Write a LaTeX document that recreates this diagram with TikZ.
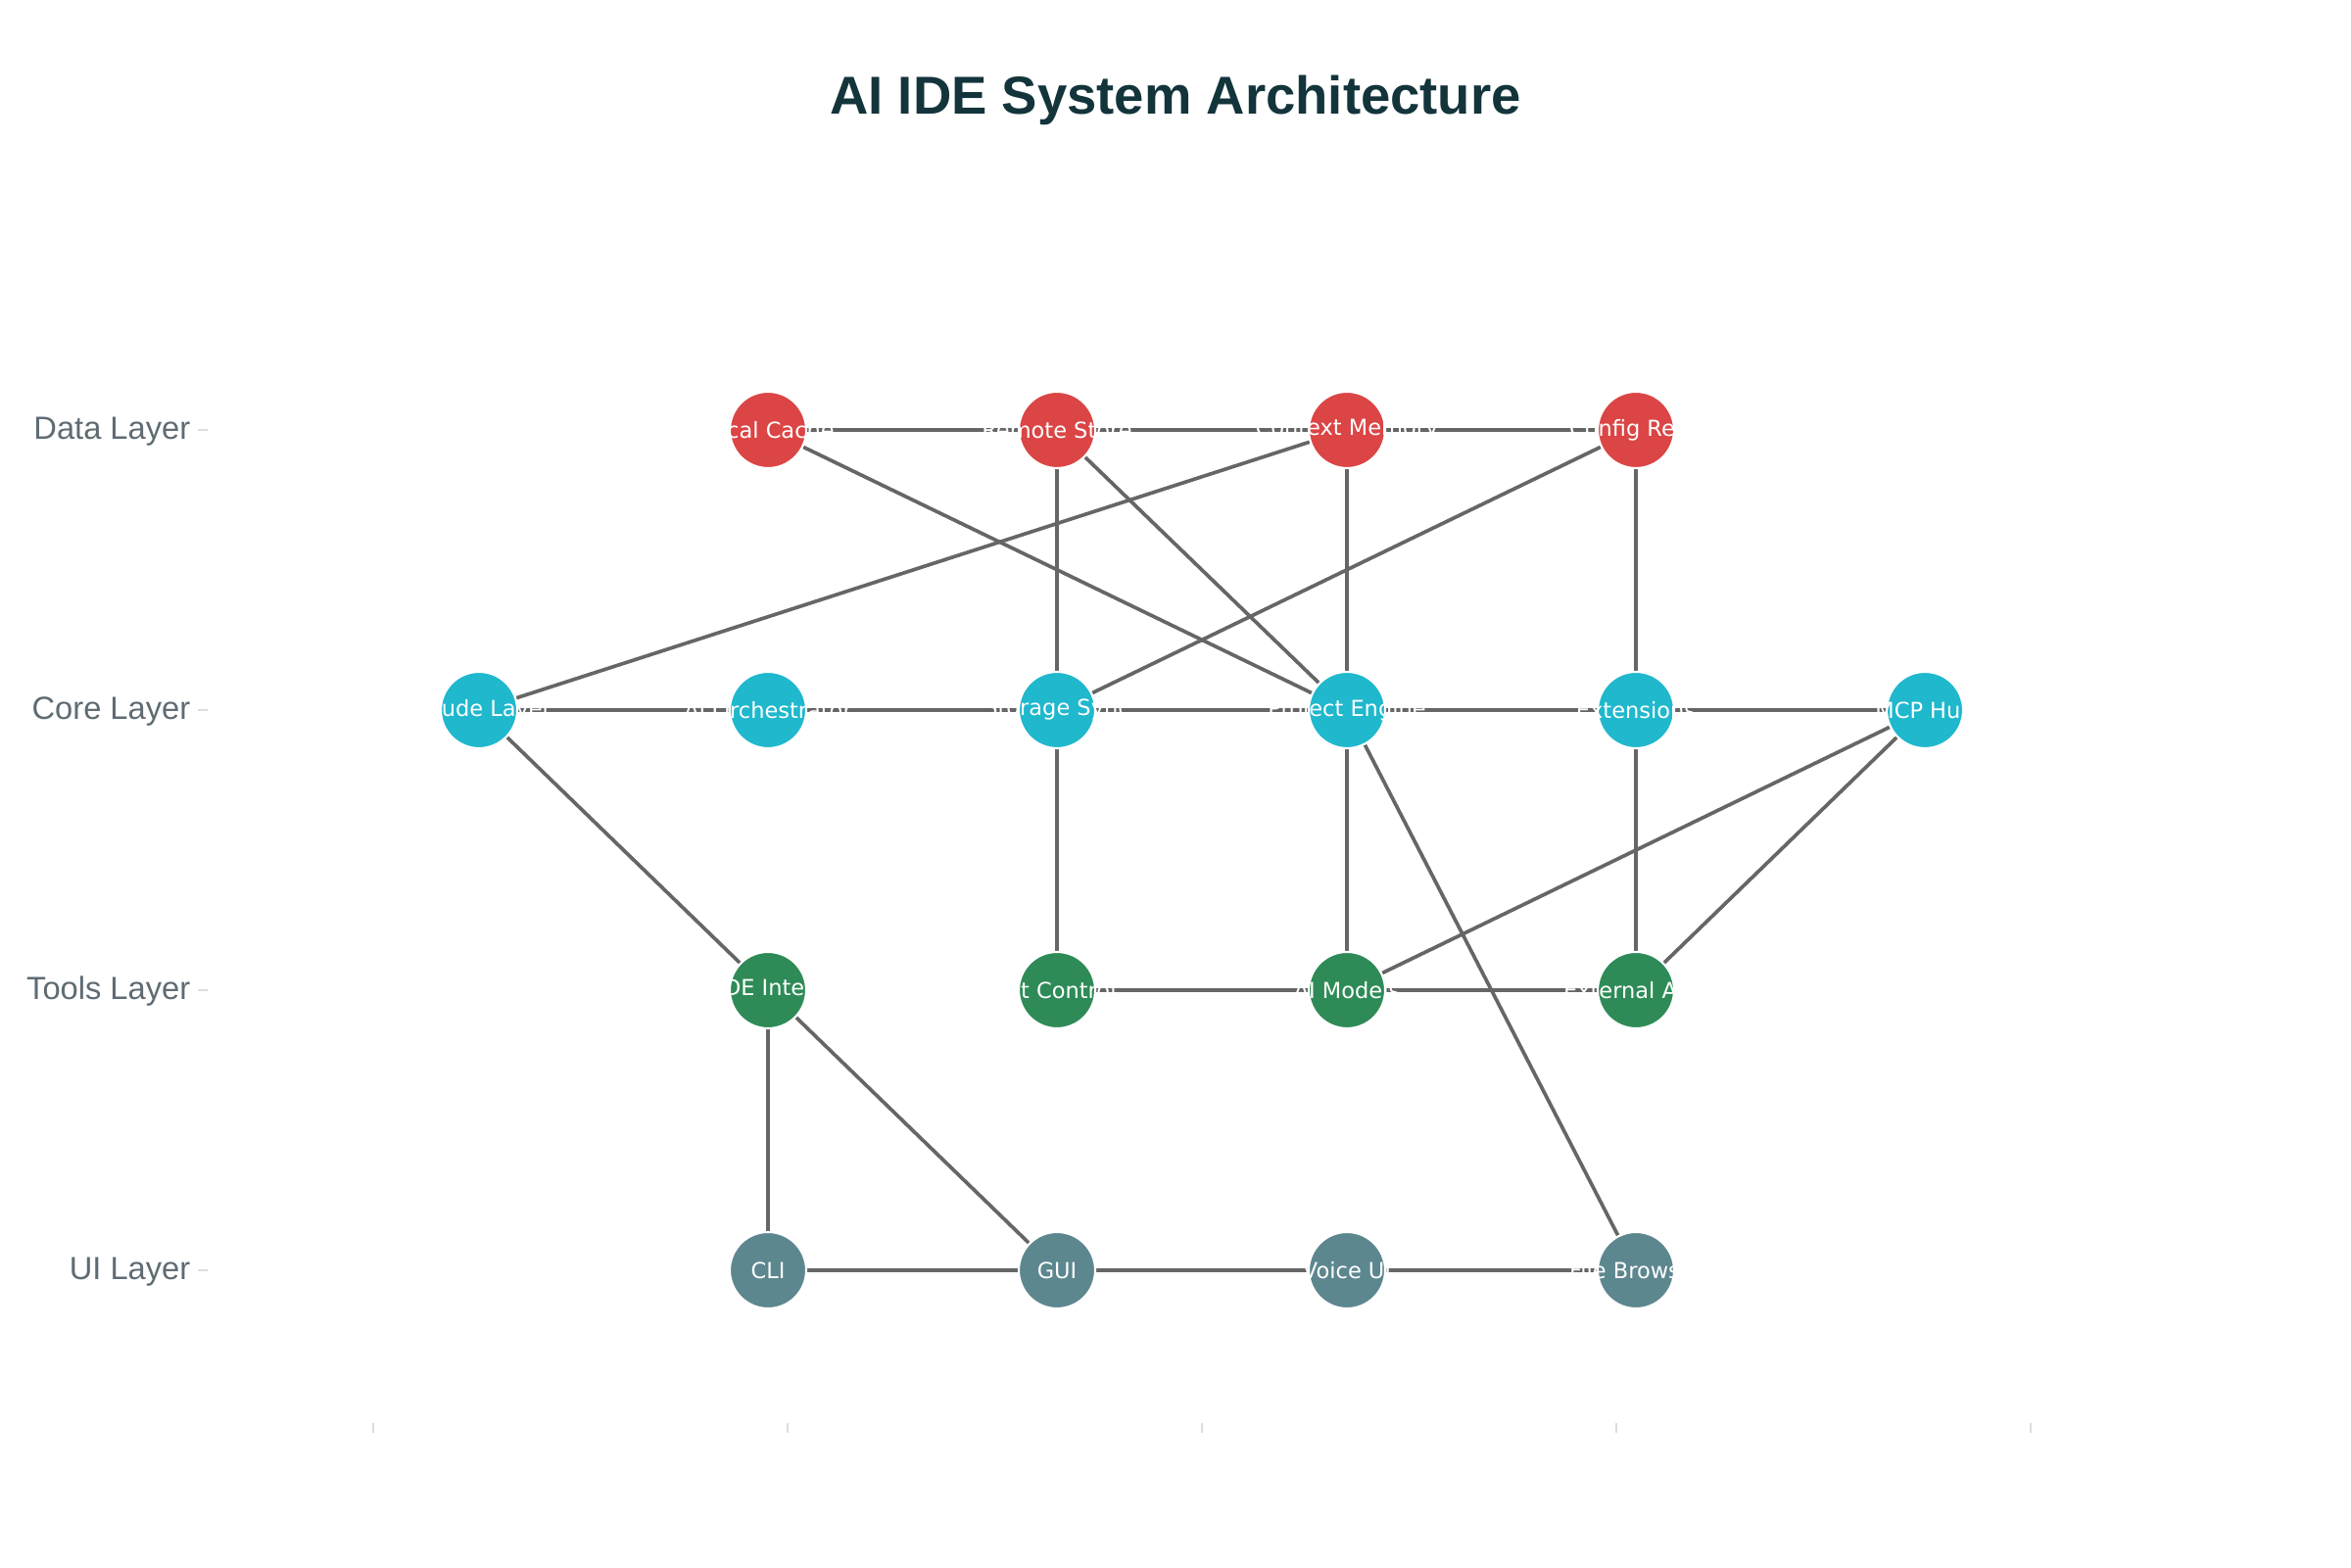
\documentclass[tikz,border=0pt]{standalone}
\usepackage{fontspec}
\setmainfont{Liberation Sans}
\newfontfamily\dejavu{DejaVu Sans}
\usepackage{xcolor}
\usepackage{tikz}
\usetikzlibrary{backgrounds}
\definecolor{datared}{HTML}{DB4545}
\definecolor{corecyan}{HTML}{1FB8CD}
\definecolor{toolgreen}{HTML}{2E8B57}
\definecolor{uislate}{HTML}{5D878F}
\definecolor{linkgray}{HTML}{666666}
\definecolor{titleink}{HTML}{13343B}
\definecolor{axisink}{HTML}{5F6B73}
\definecolor{tickgray}{HTML}{DADDE0}

\begin{document}
\begin{tikzpicture}[
  dot/.style={circle, draw=white, line width=0.6pt, minimum size=0.78cm, inner sep=0pt},
  datadot/.style={dot, fill=datared},
  coredot/.style={dot, fill=corecyan},
  tooldot/.style={dot, fill=toolgreen},
  uidot/.style={dot, fill=uislate},
  dotlabel/.style={text=white, inner sep=0pt, font=\dejavu\fontsize{6.4}{8}\selectfont},
  layer/.style={anchor=mid east, text=axisink, inner sep=0pt, font=\fontsize{9.3}{11}\selectfont},
  link/.style={draw=linkgray, line width=1.05pt},
  tick/.style={draw=tickgray, line width=0.5pt}
]
\useasboundingbox (0,0) rectangle (24,16);

% Title
\node[text=titleink, font=\bfseries\fontsize{15.5}{19}\selectfont] (title) at (12.0,14.98) {AI IDE System Architecture};

% Layer axis
\node[layer] (datalayer) at (1.95,11.61) {Data Layer};
\node[layer] (corelayer) at (1.95,8.75) {Core Layer};
\node[layer] (toollayer) at (1.95,5.89) {Tools Layer};
\node[layer] (uilayer) at (1.95,3.03) {UI Layer};
\draw[tick] (2.02,11.61) -- (2.12,11.61);
\draw[tick] (2.02,8.75) -- (2.12,8.75);
\draw[tick] (2.02,5.89) -- (2.12,5.89);
\draw[tick] (2.02,3.03) -- (2.12,3.03);

% Bottom axis ticks
\foreach \x in {3.81,8.04,12.27,16.50,20.73}
  \draw[tick] (\x,1.47) -- (\x,1.37);

% Data layer
\node[datadot, label={[dotlabel]center:Local Cache}] (cache) at (7.84,11.61) {};
\node[datadot, label={[dotlabel]center:Remote Store}] (remote) at (10.79,11.61) {};
\node[datadot, label={[dotlabel]center:Context Memory}] (context) at (13.75,11.61) {};
\node[datadot, label={[dotlabel]center:Config Repo}] (config) at (16.70,11.61) {};

% Core layer
\node[coredot, label={[dotlabel]center:Claude Layer}] (claude) at (4.89,8.75) {};
\node[coredot, label={[dotlabel]center:AI Orchestrator}] (orch) at (7.84,8.75) {};
\node[coredot, label={[dotlabel]center:Storage Sync}] (storage) at (10.79,8.75) {};
\node[coredot, label={[dotlabel]center:Project Engine}] (engine) at (13.75,8.75) {};
\node[coredot, label={[dotlabel]center:Extensions}] (ext) at (16.70,8.75) {};
\node[coredot, label={[dotlabel]center:MCP Hub}] (mcp) at (19.65,8.75) {};

% Tools layer
\node[tooldot, label={[dotlabel]center:IDE Integ}] (ide) at (7.84,5.89) {};
\node[tooldot, label={[dotlabel]center:Git Control}] (git) at (10.79,5.89) {};
\node[tooldot, label={[dotlabel]center:AI Models}] (models) at (13.75,5.89) {};
\node[tooldot, label={[dotlabel]center:External APIs}] (apis) at (16.70,5.89) {};

% UI layer
\node[uidot, label={[dotlabel]center:CLI}] (cli) at (7.84,3.03) {};
\node[uidot, label={[dotlabel]center:GUI}] (gui) at (10.79,3.03) {};
\node[uidot, label={[dotlabel]center:Voice UI}] (voice) at (13.75,3.03) {};
\node[uidot, label={[dotlabel]center:File Browser}] (browser) at (16.70,3.03) {};

% Links (behind the nodes)
\begin{pgfonlayer}{background}
\draw[link] (cache) -- (remote);
\draw[link] (remote) -- (context);
\draw[link] (context) -- (config);
\draw[link] (cache) -- (engine);
\draw[link] (remote) -- (engine);
\draw[link] (remote) -- (storage);
\draw[link] (context) -- (claude);
\draw[link] (context) -- (engine);
\draw[link] (config) -- (storage);
\draw[link] (config) -- (ext);

\draw[link] (claude) -- (orch);
\draw[link] (orch) -- (storage);
\draw[link] (storage) -- (engine);
\draw[link] (engine) -- (ext);
\draw[link] (ext) -- (mcp);
\draw[link] (claude) -- (ide);
\draw[link] (storage) -- (git);
\draw[link] (engine) -- (models);
\draw[link] (engine) -- (browser);
\draw[link] (ext) -- (apis);
\draw[link] (mcp) -- (models);
\draw[link] (mcp) -- (apis);

\draw[link] (git) -- (models);
\draw[link] (models) -- (apis);
\draw[link] (ide) -- (cli);
\draw[link] (ide) -- (gui);

\draw[link] (cli) -- (gui);
\draw[link] (gui) -- (voice);
\draw[link] (voice) -- (browser);
\end{pgfonlayer}

\end{tikzpicture}
\end{document}
